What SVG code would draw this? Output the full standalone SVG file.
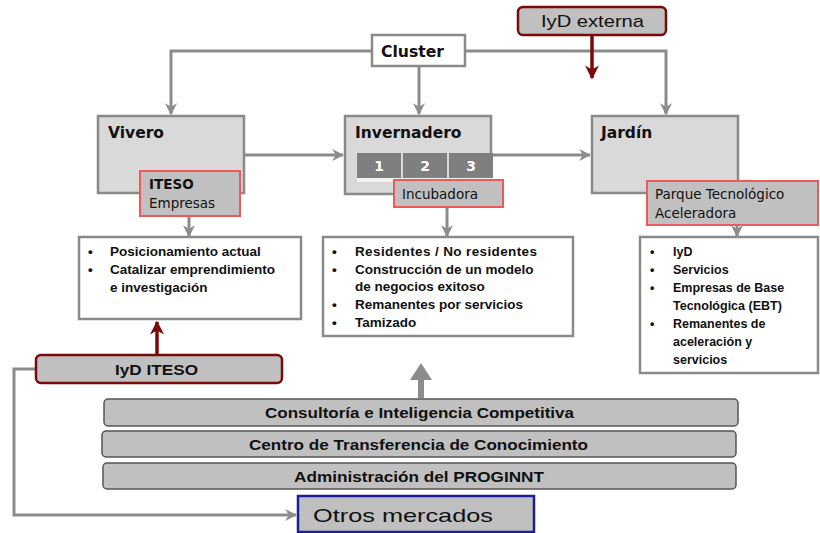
<svg xmlns="http://www.w3.org/2000/svg" width="820" height="533" viewBox="0 0 820 533">
<style>
.stage{fill:#d9d9d9;stroke:#8a8a8a;stroke-width:2.5}
.tag{fill:#c0c0c0;stroke:#ee5a5a;stroke-width:2}
.list{fill:#ffffff;stroke:#8a8a8a;stroke-width:2.5}
.bar{fill:#c0c0c0;stroke:#555555;stroke-width:1.5}
.red{fill:#c0c0c0;stroke:#7a0a0a;stroke-width:2.5}
.cell{fill:#7f7f7f}
.title{font-family:"DejaVu Sans",Verdana,sans-serif;font-weight:bold;font-size:15.5px;fill:#111}
.tagt{font-family:"DejaVu Sans",Verdana,sans-serif;font-size:13.5px;fill:#111}
.celt{font-family:"DejaVu Sans",Verdana,sans-serif;font-weight:bold;font-size:14px;fill:#fff}
.li{font-family:"Liberation Sans",Arial,sans-serif;font-weight:bold;font-size:13.5px;fill:#111}
.li2{font-family:"Liberation Sans",Arial,sans-serif;font-weight:bold;font-size:12.5px;fill:#111}
.bart{font-family:"Liberation Sans",Arial,sans-serif;font-weight:bold;font-size:15px;fill:#111}
.con{fill:none;stroke:#8c8c8c;stroke-width:3}
.conr{fill:none;stroke:#7a0a0a;stroke-width:3.5}
</style>
<defs>
<marker id="ag" viewBox="0 0 10 10" refX="9" refY="5" markerWidth="4" markerHeight="4" orient="auto" markerUnits="strokeWidth">
<path d="M0,0 L10,5 L0,10 L3,5 z" fill="#8c8c8c"/>
</marker>
<marker id="ar" viewBox="0 0 10 10" refX="9" refY="5" markerWidth="4" markerHeight="4" orient="auto" markerUnits="strokeWidth">
<path d="M0,0 L10,5 L0,10 L3,5 z" fill="#7a0a0a"/>
</marker>
</defs>
<rect width="820" height="533" fill="#ffffff"/>

<g id="connectors">
<path class="con" d="M372,51 H171 V114" marker-end="url(#ag)"/>
<path class="con" d="M465,51 H666 V114" marker-end="url(#ag)"/>
<path class="con" d="M419,66 V114" marker-end="url(#ag)"/>
<path class="conr" d="M592,35 V78" marker-end="url(#ar)"/>
<path class="con" d="M244,155 H343" marker-end="url(#ag)"/>
<path class="con" d="M493,155 H590" marker-end="url(#ag)"/>
<path class="con" d="M189,216 V236" marker-end="url(#ag)"/>
<path class="con" d="M447,207 V236" marker-end="url(#ag)"/>
<path class="con" d="M737,225 V236" marker-end="url(#ag)"/>
<path class="conr" d="M157,355 V322" marker-end="url(#ar)"/>
<path fill="none" stroke="#8c8c8c" stroke-width="6" d="M421,398 V378"/>
<path fill="#8c8c8c" d="M410,380 L421,363 L432,380 z"/>
<path class="con" d="M36,369 H14 V515 H296" marker-end="url(#ag)"/>
</g>

<g id="iyd-externa">
<rect class="red" x="518" y="7" width="148" height="28" rx="5"/>
<text x="541" y="27" textLength="103" lengthAdjust="spacingAndGlyphs" font-family="Liberation Sans,Arial,sans-serif" font-size="17" fill="#111">IyD externa</text>
</g>

<g id="cluster">
<rect x="372" y="35" width="93" height="31" fill="#ffffff" stroke="#8a8a8a" stroke-width="2.5"/>
<text x="381" y="57" textLength="63" lengthAdjust="spacingAndGlyphs" class="title" font-size="16.5">Cluster</text>
</g>

<g id="vivero">
<rect class="stage" x="98" y="116" width="146" height="77"/>
<text x="108" y="138" class="title">Vivero</text>
</g>
<g id="iteso-empresas">
<rect class="tag" x="140" y="171" width="100" height="45"/>
<text x="149" y="189" class="tagt" font-weight="bold">ITESO</text>
<text x="149" y="208" class="tagt">Empresas</text>
</g>

<g id="invernadero">
<rect class="stage" x="345" y="116" width="146" height="78"/>
<text x="355" y="138" class="title">Invernadero</text>
<rect x="357" y="178" width="136" height="4" fill="#f2f2f2"/>
<rect class="cell" x="357" y="153" width="44" height="25"/>
<rect class="cell" x="403" y="153" width="44" height="25"/>
<rect class="cell" x="449" y="153" width="44" height="25"/>
<text x="379" y="171" text-anchor="middle" class="celt">1</text>
<text x="425" y="171" text-anchor="middle" class="celt">2</text>
<text x="471" y="171" text-anchor="middle" class="celt">3</text>
</g>
<g id="incubadora">
<rect class="tag" x="394" y="180" width="109" height="27"/>
<text x="402" y="199" class="tagt">Incubadora</text>
</g>

<g id="jardin">
<rect class="stage" x="592" y="116" width="146" height="77"/>
<text x="601" y="138" class="title">Jardín</text>
</g>
<g id="parque">
<rect class="tag" x="647" y="181" width="171" height="44"/>
<text x="655" y="199" class="tagt">Parque Tecnológico</text>
<text x="655" y="218" class="tagt">Aceleradora</text>
</g>

<g id="list-vivero">
<rect class="list" x="79" y="237" width="222" height="82"/>
<text x="88" y="256" class="li">•</text><text x="110" y="256" class="li">Posicionamiento actual</text>
<text x="88" y="274" class="li">•</text><text x="110" y="274" class="li">Catalizar emprendimiento</text>
<text x="110" y="292" class="li">e investigación</text>
</g>

<g id="list-invernadero">
<rect class="list" x="323" y="237" width="250" height="99"/>
<text x="332" y="256" class="li">•</text><text x="355" y="256" class="li" textLength="182" lengthAdjust="spacing">Residentes / No residentes</text>
<text x="332" y="274" class="li">•</text><text x="355" y="274" class="li">Construcción de un modelo</text>
<text x="355" y="291" class="li">de negocios exitoso</text>
<text x="332" y="309" class="li">•</text><text x="355" y="309" class="li">Remanentes por servicios</text>
<text x="332" y="327" class="li">•</text><text x="355" y="327" class="li">Tamizado</text>
</g>

<g id="list-jardin">
<rect class="list" x="640" y="237" width="178" height="136"/>
<text x="650" y="256" class="li2">•</text><text x="673" y="256" class="li2">IyD</text>
<text x="650" y="274" class="li2">•</text><text x="673" y="274" class="li2">Servicios</text>
<text x="650" y="292" class="li2">•</text><text x="673" y="292" class="li2">Empresas de Base</text>
<text x="673" y="310" class="li2">Tecnológica (EBT)</text>
<text x="650" y="328" class="li2">•</text><text x="673" y="328" class="li2">Remanentes de</text>
<text x="673" y="346" class="li2">aceleración y</text>
<text x="673" y="364" class="li2">servicios</text>
</g>

<g id="iyd-iteso">
<rect class="red" x="36" y="355" width="246" height="28" rx="5"/>
<text x="115" y="375" textLength="83" lengthAdjust="spacingAndGlyphs" class="bart" font-size="16">IyD ITESO</text>
</g>

<g id="consultoria">
<rect class="bar" x="104" y="399" width="634" height="27" rx="4"/>
<text x="265" y="418" textLength="309" lengthAdjust="spacingAndGlyphs" class="bart">Consultoría e Inteligencia Competitiva</text>
</g>
<g id="centro">
<rect class="bar" x="102" y="431" width="634" height="26" rx="4"/>
<text x="249" y="450" textLength="339" lengthAdjust="spacingAndGlyphs" class="bart">Centro de Transferencia de Conocimiento</text>
</g>
<g id="administracion">
<rect class="bar" x="103" y="463" width="633" height="26" rx="4"/>
<text x="294" y="482" textLength="250" lengthAdjust="spacingAndGlyphs" class="bart">Administración del PROGINNT</text>
</g>

<g id="otros-mercados">
<rect x="298" y="496" width="236" height="36" fill="#c0c0c0" stroke="#1c1c9a" stroke-width="2.5"/>
<text x="313" y="522" textLength="180" lengthAdjust="spacingAndGlyphs" font-family="Liberation Sans,Arial,sans-serif" font-size="19" fill="#111">Otros mercados</text>
</g>
</svg>
